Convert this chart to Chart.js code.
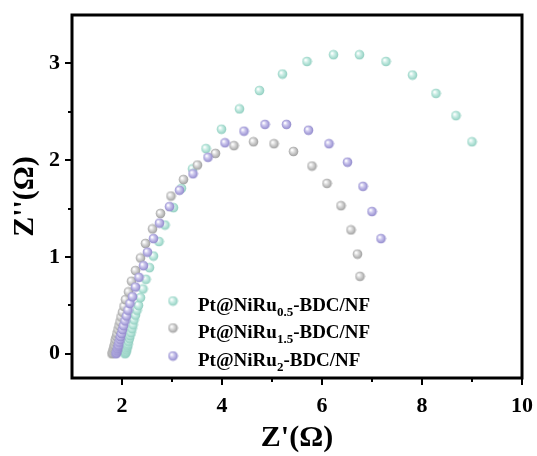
<!DOCTYPE html>
<html>
<head>
<meta charset="utf-8">
<script src="https://cdn.jsdelivr.net/npm/chart.js@4.4.1/dist/chart.umd.min.js"></script>
<style>
  html, body { margin: 0; padding: 0; background: #fff; }
</style>
</head>
<body>
<canvas id="grafico" width="537" height="456"></canvas>
<script>
// datos: [Z', Z'']
const ru05 = [
  [2.06,0.00],[2.07,0.01],[2.08,0.02],[2.09,0.04],[2.10,0.06],[2.11,0.08],[2.12,0.10],[2.13,0.13],
  [2.15,0.16],[2.16,0.19],[2.18,0.22],[2.20,0.26],[2.22,0.30],[2.24,0.35],[2.27,0.40],[2.30,0.45],
  [2.33,0.50],[2.37,0.58],[2.42,0.67],[2.48,0.77],[2.55,0.89],[2.63,1.01],[2.74,1.16],[2.86,1.33],
  [3.03,1.51],[3.19,1.71],[3.41,1.91],[3.68,2.12],[3.99,2.32],[4.35,2.53],[4.75,2.72],[5.21,2.89],
  [5.70,3.02],[6.23,3.09],[6.75,3.09],[7.28,3.02],[7.81,2.88],[8.28,2.69],[8.68,2.46],[9.00,2.19]
];
const ru15 = [
  [1.80,0.00],[1.81,0.01],[1.82,0.03],[1.83,0.05],[1.84,0.07],[1.85,0.09],[1.86,0.12],[1.87,0.15],
  [1.89,0.18],[1.90,0.21],[1.92,0.25],[1.94,0.29],[1.96,0.33],[1.98,0.38],[2.01,0.43],[2.04,0.49],
  [2.07,0.56],[2.13,0.64],[2.19,0.75],[2.27,0.86],[2.37,0.99],[2.47,1.14],[2.61,1.29],[2.77,1.45],
  [2.98,1.63],[3.23,1.80],[3.51,1.95],[3.87,2.07],[4.24,2.15],[4.63,2.19],[5.04,2.17],[5.43,2.09],
  [5.80,1.94],[6.10,1.76],[6.38,1.53],[6.58,1.28],[6.71,1.03],[6.76,0.80]
];
const ru2 = [
  [1.88,0.00],[1.89,0.01],[1.90,0.03],[1.91,0.05],[1.92,0.07],[1.93,0.09],[1.94,0.12],[1.96,0.15],
  [1.97,0.18],[1.99,0.21],[2.01,0.25],[2.03,0.29],[2.06,0.34],[2.09,0.39],[2.12,0.45],[2.16,0.52],
  [2.21,0.59],[2.27,0.69],[2.34,0.79],[2.43,0.91],[2.51,1.05],[2.63,1.19],[2.75,1.35],[2.95,1.52],
  [3.15,1.69],[3.42,1.86],[3.72,2.03],[4.06,2.18],[4.44,2.30],[4.86,2.37],[5.29,2.37],[5.73,2.31],
  [6.14,2.17],[6.51,1.98],[6.82,1.73],[7.00,1.47],[7.18,1.19]
];
const xTicks = [2, 4, 6, 8, 10];
const yTicks = [0, 1, 2, 3];
const xMinor = [3, 5, 7, 9];
const yMinor = [0.5, 1.5, 2.5];
// etiquetas de la leyenda: [antes, subindice, despues]
const etiquetas = [
  ['Pt@NiRu', '0.5', '-BDC/NF'],
  ['Pt@NiRu', '1.5', '-BDC/NF'],
  ['Pt@NiRu', '2', '-BDC/NF']
];

// bolitas con brillo
function crearBola(luz, cuerpo, borde) {
  const c = document.createElement('canvas');
  c.width = 11; c.height = 11;
  const g = c.getContext('2d');
  const grad = g.createRadialGradient(4, 4, 0.5, 5.5, 5.5, 5.2);
  grad.addColorStop(0, '#ffffff');
  grad.addColorStop(0.3, luz);
  grad.addColorStop(0.75, cuerpo);
  grad.addColorStop(1, borde);
  g.fillStyle = grad;
  g.beginPath();
  g.arc(5.5, 5.5, 4.8, 0, Math.PI * 2);
  g.fill();
  return c;
}
const bolas = [
  crearBola('#d2f0e9', '#a3dacd', '#86c6b8'),
  crearBola('#e0e0e0', '#b3b3b3', '#959595'),
  crearBola('#d2cdf0', '#a49dd8', '#8880c4')
];

const serif = '"Liberation Serif", "Times New Roman", serif';

// marco, ticks menores y leyenda
const extras = {
  id: 'extras',
  afterDraw(chart) {
    const ctx = chart.ctx;
    const a = chart.chartArea;
    const sx = chart.scales.x, sy = chart.scales.y;
    ctx.save();
    ctx.strokeStyle = '#000';
    ctx.lineWidth = 2;
    xMinor.forEach(v => {
      const px = Math.round(sx.getPixelForValue(v));
      ctx.beginPath(); ctx.moveTo(px, a.bottom); ctx.lineTo(px, a.bottom + 4); ctx.stroke();
    });
    yMinor.forEach(v => {
      const py = Math.round(sy.getPixelForValue(v));
      ctx.beginPath(); ctx.moveTo(a.left, py); ctx.lineTo(a.left - 4, py); ctx.stroke();
    });
    ctx.lineWidth = 3;
    ctx.strokeRect(a.left, a.top, a.right - a.left, a.bottom - a.top);

    // leyenda
    const filas = [301, 328, 356];
    etiquetas.forEach((et, i) => {
      const y = filas[i];
      ctx.drawImage(bolas[i], 173 - 5.5, y - 5.5);
      ctx.fillStyle = '#000';
      ctx.textBaseline = 'alphabetic';
      ctx.textAlign = 'left';
      let x = 198;
      ctx.font = 'bold 19px ' + serif;
      ctx.fillText(et[0], x, y + 10);
      x += ctx.measureText(et[0]).width;
      ctx.font = 'bold 13px ' + serif;
      ctx.fillText(et[1], x, y + 15);
      x += ctx.measureText(et[1]).width;
      ctx.font = 'bold 19px ' + serif;
      ctx.fillText(et[2], x, y + 10);
    });
    ctx.restore();
  }
};

const aPuntos = arr => arr.map(p => ({ x: p[0], y: p[1] }));

new Chart(document.getElementById('grafico').getContext('2d'), {
  type: 'scatter',
  data: {
    datasets: [
      { label: 'Pt@NiRu0.5-BDC/NF', data: aPuntos(ru05), pointStyle: bolas[0], order: 2 },
      { label: 'Pt@NiRu1.5-BDC/NF', data: aPuntos(ru15), pointStyle: bolas[1], order: 1 },
      { label: 'Pt@NiRu2-BDC/NF', data: aPuntos(ru2), pointStyle: bolas[2], order: 0 }
    ]
  },
  options: {
    responsive: false,
    animation: false,
    devicePixelRatio: 1,
    layout: { padding: { top: 15, right: 15, left: 0, bottom: 0 } },
    plugins: { legend: { display: false }, tooltip: { enabled: false } },
    scales: {
      x: {
        type: 'linear',
        min: 1, max: 10,
        afterBuildTicks: s => { s.ticks = xTicks.map(v => ({ value: v })); },
        afterFit: s => { s.height = 78; s.paddingRight = 0; s.paddingLeft = 0; },
        grid: { drawOnChartArea: false, tickLength: 7, lineWidth: 2, color: '#000' },
        border: { display: false },
        ticks: { color: '#000', padding: 8, maxRotation: 0, font: { family: serif, size: 22, weight: 'bold' } },
        title: { display: true, text: "Z'(Ω)", color: '#000', padding: { top: 0, bottom: 0 },
                 font: { family: serif, size: 30, weight: 'bold' } }
      },
      y: {
        type: 'linear',
        min: -0.25, max: 3.5,
        afterBuildTicks: s => { s.ticks = yTicks.map(v => ({ value: v })); },
        afterFit: s => { s.width = 72; s.paddingTop = 0; s.paddingBottom = 0; },
        grid: { drawOnChartArea: false, tickLength: 7, lineWidth: 2, color: '#000' },
        border: { display: false },
        ticks: { color: '#000', padding: 5, font: { family: serif, size: 22, weight: 'bold' } },
        title: { display: true, text: "Z''(Ω)", color: '#000', padding: { top: 7, bottom: 0 },
                 font: { family: serif, size: 30, weight: 'bold' } }
      }
    }
  },
  plugins: [extras]
});
</script>
</body>
</html>
